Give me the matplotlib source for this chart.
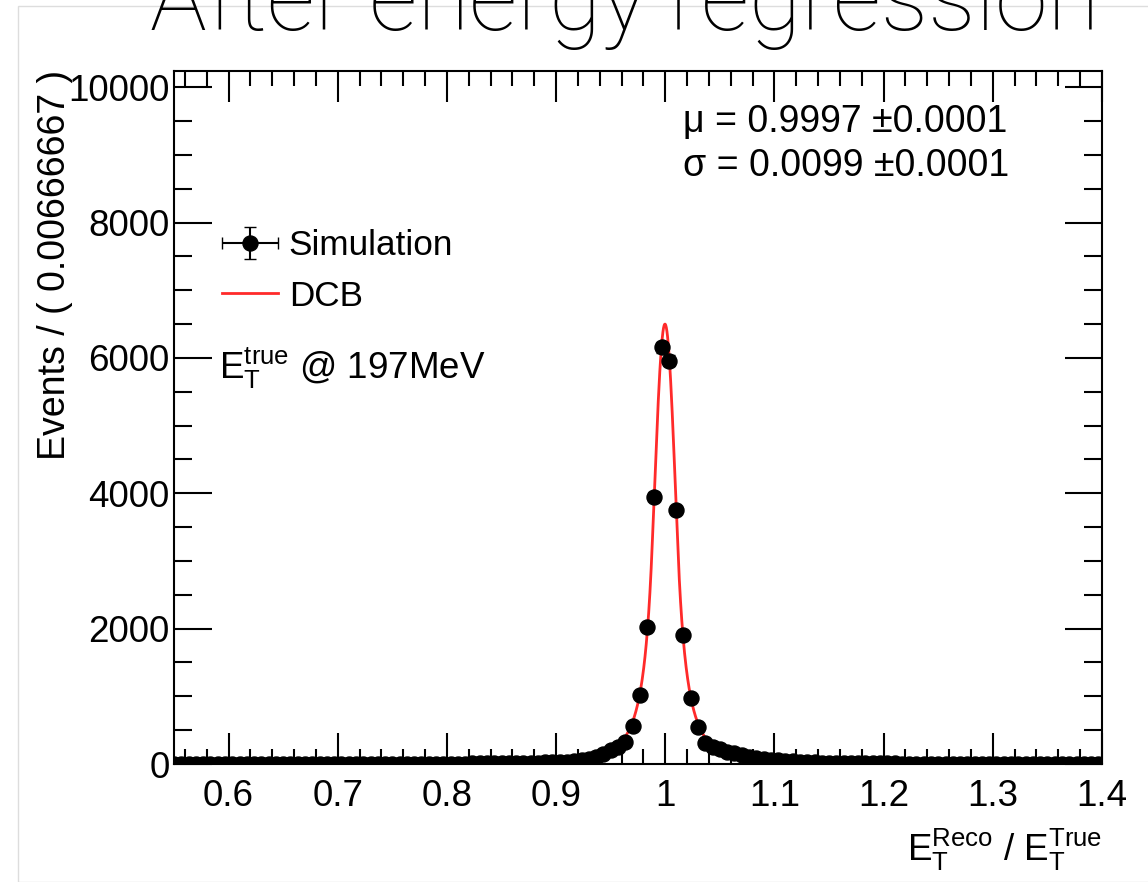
import numpy as np
import matplotlib
matplotlib.use("Agg")
import matplotlib.pyplot as plt
from matplotlib.patches import Rectangle
from matplotlib.container import ErrorbarContainer
from matplotlib.legend_handler import HandlerErrorbar

plt.rcParams['font.family'] = ['Liberation Sans', 'DejaVu Sans']
plt.rcParams['mathtext.fontset'] = 'custom'
plt.rcParams['mathtext.rm'] = 'Liberation Sans'
plt.rcParams['mathtext.it'] = 'Liberation Sans'

# histogram: 150 bins on [0.5, 1.5], shown from 0.55 to 1.4
bin_lo, bin_hi, nbins = 0.5, 1.5, 150
first_bin = 7
counts = [
    # 0.550 - 0.697
    1, 0, 1, 1, 0, 2, 1, 1, 0, 1, 2, 1, 1, 2, 1, 1, 2, 2, 1, 2, 2, 3, 2,
    # 0.703 - 0.797
    2, 3, 2, 3, 3, 4, 3, 4, 4, 5, 4, 5, 5, 6, 5,
    # 0.803 - 0.863
    6, 7, 7, 8, 9, 9, 11, 12, 13, 15,
    # 0.870 - 0.943
    17, 19, 21, 24, 28, 31, 36, 48, 58, 75, 105, 148,
    # 0.950 - 0.963
    200, 252, 318,
    # 0.970 - 1.043 (peak)
    565, 1020, 2030, 3950, 6155, 5960, 3755, 1905, 975, 540, 312, 258,
    # 1.050 - 1.117
    220, 182, 158, 130, 108, 90, 76, 62, 52, 44, 37,
    # 1.123 - 1.217
    32, 28, 25, 22, 19, 17, 15, 13, 12, 11, 10, 9, 8, 8, 7,
    # 1.223 - 1.397
    6, 6, 5, 6, 5, 4, 5, 4, 4, 3, 4, 3, 3, 3, 2, 3, 2, 2, 3, 2, 2, 1, 2, 2, 1, 2, 1,
]

# double crystal ball fit parameters
mu, sigma = 0.9997, 0.0099
alpha_l, n_l = 1.2, 3.0
alpha_r, n_r = 1.2, 3.0
norm = 6500.0

edges = np.linspace(bin_lo, bin_hi, nbins + 1)
centers = 0.5 * (edges[:-1] + edges[1:])
width = edges[1] - edges[0]
x = centers[first_bin:first_bin + len(counts)]
y = np.array(counts, dtype=float)


def dcb(xx):
    t = (xx - mu) / sigma
    out = np.exp(-0.5 * t ** 2)
    al = (n_l / alpha_l) ** n_l * np.exp(-0.5 * alpha_l ** 2)
    bl = n_l / alpha_l - alpha_l
    ar = (n_r / alpha_r) ** n_r * np.exp(-0.5 * alpha_r ** 2)
    br = n_r / alpha_r - alpha_r
    lo = t < -alpha_l
    hi = t > alpha_r
    out[lo] = al * (bl - t[lo]) ** (-n_l)
    out[hi] = ar * (br + t[hi]) ** (-n_r)
    return norm * out


fig = plt.figure(figsize=(11.48, 8.82), dpi=100)
ax = fig.add_axes([174 / 1148, 1 - 764 / 882, 928 / 1148, 693 / 882])

xf = np.linspace(0.55, 1.4, 3000)
fit_line, = ax.plot(xf, dcb(xf), color='#ff2a2a', lw=2, label='DCB', zorder=2)
data = ax.errorbar(x, y, yerr=np.sqrt(y), xerr=width / 2, fmt='o', color='black',
                   ms=10.8, lw=1.5, capsize=4, label='Simulation', zorder=3)

ax.set_xlim(0.55, 1.4)
ax.set_ylim(0, 10240)
ax.set_xticks(np.arange(0.6, 1.41, 0.1))
ax.set_xticklabels(['0.6', '0.7', '0.8', '0.9', '1', '1.1', '1.2', '1.3', '1.4'])
ax.set_xticks(np.arange(0.56, 1.4, 0.02), minor=True)
ax.set_yticks(np.arange(0, 10001, 2000))
ax.set_yticks(np.arange(0, 10240, 500), minor=True)
ax.tick_params(axis='both', which='both', direction='in', top=True, right=True,
               width=1.5, labelsize=26.5)
ax.tick_params(axis='x', which='major', length=22, pad=11)
ax.tick_params(axis='x', which='minor', length=11)
ax.tick_params(axis='y', which='major', length=27, pad=3)
ax.tick_params(axis='y', which='minor', length=13)
for s in ax.spines.values():
    s.set_linewidth(1.5)

ax.legend(handles=[data, fit_line], labels=['Simulation', 'DCB'], loc='upper left',
          bbox_to_anchor=(0.0517, 0.772), frameon=False, fontsize=25.3,
          handlelength=1.6, handletextpad=0.3, labelspacing=0.5,
          borderaxespad=0, borderpad=0,
          handler_map={ErrorbarContainer: HandlerErrorbar(xerr_size=0.8, yerr_size=0.45)})

ax.text(0.049, 0.571, r'$\mathregular{E_T^{true}}$ @ 197MeV', transform=ax.transAxes,
        fontsize=26.5, va='center', ha='left')
ax.text(0.548, 0.927, r'μ = 0.9997 ±0.0001', transform=ax.transAxes,
        fontsize=27, va='center', ha='left')
ax.text(0.548, 0.8627, r'σ = 0.0099 ±0.0001', transform=ax.transAxes,
        fontsize=27, va='center', ha='left')

fig.text(55 / 1148, 1 - 70 / 882, 'Events / ( 0.00666667 )', rotation=90,
         fontsize=27, ha='center', va='top')
fig.text(1102 / 1148, 1 - 850 / 882,
         r'$\mathregular{E_T^{Reco}}$ / $\mathregular{E_T^{True}}$',
         fontsize=26.5, ha='right', va='center')

fig.text(625 / 1148, 1 - 30 / 882, 'After energy regression', family='Roboto',
         fontweight='light', fontsize=68.5, ha='center', va='baseline')

fig.patches.append(Rectangle((18 / 1148, 0), 1.0, 1 - 6 / 882, transform=fig.transFigure,
                             fill=False, edgecolor='#dddddd', lw=1, zorder=0))

fig.savefig('out.png', dpi=100)
